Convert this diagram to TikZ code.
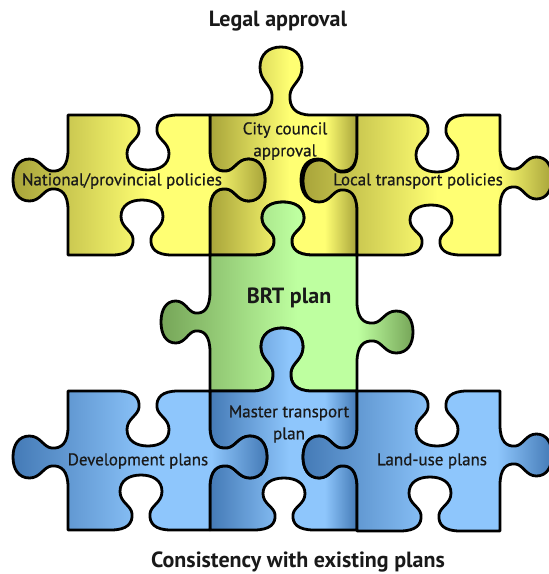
\documentclass[tikz,border=0pt]{standalone}
\usepackage{fontspec}
\setmainfont{PT Sans}
\newfontfamily\piecefont[FakeBold=0.6]{PT Sans}
\definecolor{ylight}{RGB}{255,255,115}
\definecolor{ydark}{RGB}{168,164,58}
\definecolor{glight}{RGB}{190,255,160}
\definecolor{gdark}{RGB}{118,165,88}
\definecolor{blight}{RGB}{142,198,252}
\definecolor{bdark}{RGB}{68,122,182}
\pgfdeclarehorizontalshading{yshade}{100bp}{color(0bp)=(ydark); color(25bp)=(ydark); color(52bp)=(ylight); color(64bp)=(ylight); color(75bp)=(ydark); color(100bp)=(ydark)}
\pgfdeclarehorizontalshading{gshade}{100bp}{color(0bp)=(gdark); color(25bp)=(gdark); color(52bp)=(glight); color(64bp)=(glight); color(75bp)=(gdark); color(100bp)=(gdark)}
\pgfdeclarehorizontalshading{bshade}{100bp}{color(0bp)=(bdark); color(25bp)=(bdark); color(52bp)=(blight); color(64bp)=(blight); color(75bp)=(bdark); color(100bp)=(bdark)}
\tikzstyle{piece} = [draw=black, line width=2.8pt, line join=round, shade]
\tikzstyle{piecetext} = [font=\piecefont\fontsize{17}{22}\selectfont, align=center, text=black!90]
\tikzstyle{headtext} = [font=\fontsize{22}{26}\selectfont\bfseries, text=black!90]
\tikzset{kf/.style n args={4}{shift={(#1,#2)},rotate=#3,yscale=#4}}
% knob on an edge: x, y, angle, -1 = tab / 1 = blank, depth
\newcommand{\knob}[5]{%
  -- ([kf={#1}{#2}{#3}{#4}]-30,0)
  .. controls ([kf={#1}{#2}{#3}{#4}]-14,0) and ([kf={#1}{#2}{#3}{#4}]-8,{0.12*#5}) .. ([kf={#1}{#2}{#3}{#4}]-9,{0.3*#5})
  .. controls ([kf={#1}{#2}{#3}{#4}]-10,{0.45*#5}) and ([kf={#1}{#2}{#3}{#4}]-21,{0.5*#5}) .. ([kf={#1}{#2}{#3}{#4}]-21,{0.7*#5})
  .. controls ([kf={#1}{#2}{#3}{#4}]-21,{0.9*#5}) and ([kf={#1}{#2}{#3}{#4}]-12,{#5}) .. ([kf={#1}{#2}{#3}{#4}]0,{#5})
  .. controls ([kf={#1}{#2}{#3}{#4}]12,{#5}) and ([kf={#1}{#2}{#3}{#4}]21,{0.9*#5}) .. ([kf={#1}{#2}{#3}{#4}]21,{0.7*#5})
  .. controls ([kf={#1}{#2}{#3}{#4}]21,{0.5*#5}) and ([kf={#1}{#2}{#3}{#4}]10,{0.45*#5}) .. ([kf={#1}{#2}{#3}{#4}]9,{0.3*#5})
  .. controls ([kf={#1}{#2}{#3}{#4}]8,{0.12*#5}) and ([kf={#1}{#2}{#3}{#4}]14,0) .. ([kf={#1}{#2}{#3}{#4}]30,0)}
\begin{document}
\begin{tikzpicture}[x=1pt,y=-1pt]
  \useasboundingbox (0,0) rectangle (549,574);

  % top row
  \path[piece,shading=yshade] (210,115) \knob{281}{115}{0}{-1}{68} -- (357,115) \knob{357}{180}{-90}{1}{56}
    -- (357,255) \knob{283}{255}{180}{1}{53} -- (210,255) \knob{210}{180}{90}{1}{55} -- cycle;
  \path[piece,shading=yshade] (68,115) \knob{148}{115}{0}{1}{55} -- (210,115) \knob{210}{180}{-90}{-1}{55}
    -- (210,255) \knob{142}{255}{180}{1}{55} -- (68,255) \knob{68}{180}{90}{-1}{55} -- cycle;
  \path[piece,shading=yshade] (357,115) \knob{437}{115}{0}{1}{57} -- (500,115) \knob{500}{178}{-90}{-1}{52}
    -- (500,255) \knob{431}{255}{180}{1}{50} -- (357,255) \knob{357}{181}{90}{-1}{54} -- cycle;

  % BRT plan
  \path[piece,shading=gshade] (210,255) \knob{283}{255}{0}{-1}{53} -- (357,255) \knob{357}{332}{-90}{-1}{56}
    -- (357,391) \knob{282}{391}{180}{1}{63} -- (210,391) \knob{210}{322}{90}{-1}{49} -- cycle;

  % bottom row
  \path[piece,shading=bshade] (210,391) \knob{282}{391}{0}{-1}{63} -- (357,391) \knob{357}{457}{-90}{1}{54}
    -- (357,530) \knob{284}{530}{180}{1}{52} -- (210,530) \knob{210}{457}{90}{1}{57} -- cycle;
  \path[piece,shading=bshade] (68,391) \knob{148}{391}{0}{1}{55} -- (210,391) \knob{210}{457}{-90}{-1}{57}
    -- (210,530) \knob{141}{530}{180}{1}{55} -- (68,530) \knob{68}{457}{90}{-1}{55} -- cycle;
  \path[piece,shading=bshade] (357,391) \knob{437}{391}{0}{1}{55} -- (500,391) \knob{500}{455}{-90}{-1}{52}
    -- (500,531) \knob{430}{531}{180}{1}{54} -- (357,531) \knob{357}{457}{90}{-1}{54} -- cycle;

  \node[headtext] (LA) at (278,21) {Legal approval};
  \node[piecetext] (NP) at (122,181) {National/provincial policies};
  \node[piecetext] (CC) at (285,141) {City council\\approval};
  \node[piecetext] (LT) at (418,181) {Local transport policies};
  \node[headtext] (BRT) at (289,298) {BRT plan};
  \node[piecetext] (DP) at (138,461) {Development plans};
  \node[piecetext] (MT) at (289,424) {Master transport\\plan};
  \node[piecetext] (LU) at (432,461) {Land-use plans};
  \node[headtext] (CE) at (298,562) {Consistency with existing plans};
\end{tikzpicture}
\end{document}
